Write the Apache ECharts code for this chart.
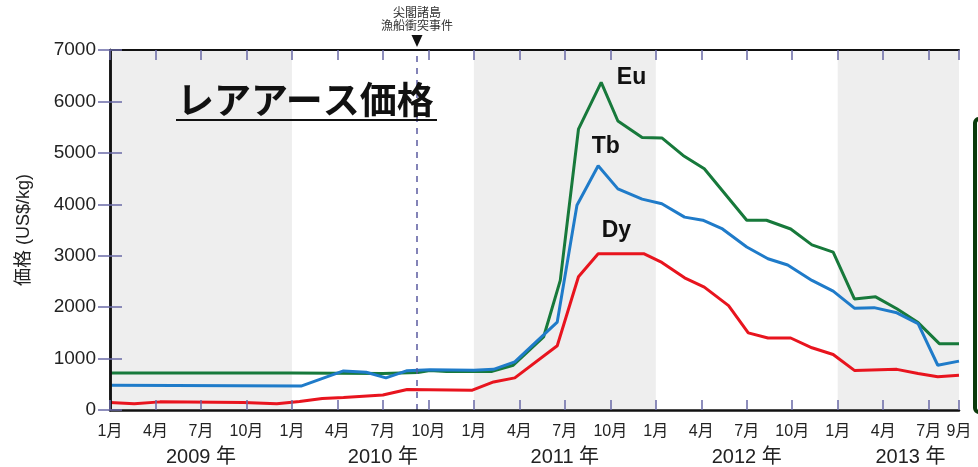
<!DOCTYPE html>
<html>
<head>
<meta charset="utf-8">
<script src="https://cdn.jsdelivr.net/npm/echarts@6/dist/echarts.min.js"></script>
<style>
  html, body { margin: 0; padding: 0; background: #fff; }
  #chart { width: 978px; height: 467px; }
</style>
</head>
<body>
<div id="chart"></div>
<script>
// months counted from Jan 2009 (0) to Sep 2013 (56)
var monthTicks = [0, 3, 6, 9, 12, 15, 18, 21, 24, 27, 30, 33, 36, 39, 42, 45, 48, 51, 54, 56]
var yearLabels = ['2009 年', '2010 年', '2011 年', '2012 年', '2013 年']
var yearLabelPos = [6, 18, 30, 42, 52.8]
var shadedYears = [[0, 12], [24, 36], [48, 56]]
var incidentMonth = 20.25

// Eu
var euMonths = [0, 12, 18, 20.3, 21.1, 22.2, 25.2, 26.6, 28.6, 29.7, 30.9, 32.4, 33.5, 35.1, 36.4, 37.8, 39.2, 42, 43.3, 44.9, 46.3, 47.7, 49.1, 50.5, 51.9, 53.3, 54.7, 56]
var euValues = [720, 720, 710, 730, 770, 750, 750, 870, 1420, 2520, 5460, 6370, 5620, 5300, 5290, 4950, 4690, 3690, 3690, 3520, 3210, 3070, 2160, 2200, 1970, 1700, 1290, 1290]
// Tb
var tbMonths = [0, 12.6, 15.4, 16.9, 18.2, 19.6, 21.1, 24, 25.3, 26.7, 29.5, 30.8, 32.2, 33.5, 35.1, 36.4, 37.9, 39.1, 40.4, 42, 43.4, 44.7, 46.3, 47.7, 49.1, 50.4, 51.9, 53.3, 54.6, 56]
var tbValues = [480, 465, 760, 735, 625, 765, 785, 775, 790, 936, 1710, 3980, 4750, 4300, 4100, 4010, 3750, 3690, 3520, 3170, 2940, 2820, 2520, 2310, 1980, 1990, 1890, 1680, 870, 950]
// Dy
var dyMonths = [0, 1.6, 3.3, 8.8, 11, 12.5, 14, 15.4, 18, 19.6, 23.9, 25.3, 26.7, 29.5, 30.9, 32.2, 35.2, 36.4, 37.9, 39.2, 40.8, 42.1, 43.4, 44.9, 46.3, 47.7, 49.1, 51.9, 53.3, 54.6, 56]
var dyValues = [145, 120, 158, 146, 120, 165, 225, 245, 290, 400, 385, 545, 625, 1250, 2590, 3040, 3040, 2870, 2570, 2390, 2030, 1500, 1400, 1400, 1210, 1080, 770, 790, 710, 645, 675]

var seriesNames = ['Eu', 'Tb', 'Dy']
var seriesColors = ['#17793b', '#1f7bc9', '#e8141e']
var labelSpots = [[34.4, 6470], [32.7, 5115], [33.4, 3485]]

var FONT = "'Liberation Sans', 'Noto Sans CJK JP', sans-serif"
var TICK = '#6a6aa6'

function pairs(xs, ys) {
  return xs.map(function (x, i) { return [x, ys[i]] })
}

var chart = echarts.init(document.getElementById('chart'))

var dataSets = [pairs(euMonths, euValues), pairs(tbMonths, tbValues), pairs(dyMonths, dyValues)]

var series = dataSets.map(function (d, i) {
  return {
    name: seriesNames[i],
    type: 'line',
    data: d,
    showSymbol: false,
    z: 3 + i,
    lineStyle: { color: seriesColors[i], width: 3 },
    itemStyle: { color: seriesColors[i] },
    markPoint: {
      symbol: 'circle',
      symbolSize: 1,
      itemStyle: { color: 'transparent' },
      label: {
        show: true,
        position: 'inside',
        formatter: seriesNames[i],
        color: '#111',
        fontSize: 23,
        fontWeight: 'bold',
        fontFamily: FONT
      },
      data: [{ coord: labelSpots[i] }]
    }
  }
})

// background bands, dashed incident line and its note
series.unshift({
  type: 'line',
  data: [],
  z: 0,
  markArea: {
    silent: true,
    itemStyle: { color: '#eeeeee' },
    data: shadedYears.map(function (r) { return [{ xAxis: r[0] }, { xAxis: r[1] }] })
  },
  markLine: {
    silent: true,
    symbol: 'none',
    label: { show: false },
    lineStyle: { color: '#5b5ba0', type: [6, 6], width: 1.5 },
    data: [{ xAxis: incidentMonth }]
  },
  markPoint: {
    symbol: 'triangle',
    symbolRotate: 180,
    symbolSize: [11, 12],
    symbolOffset: [0, -9],
    itemStyle: { color: '#111' },
    label: {
      show: true,
      position: 'top',
      distance: 3,
      formatter: '尖閣諸島\n漁船衝突事件',
      color: '#333',
      fontSize: 12,
      lineHeight: 13,
      fontFamily: "'Noto Sans CJK JP', sans-serif"
    },
    data: [{ coord: [incidentMonth, 7000] }]
  }
})

chart.setOption({
  animation: false,
  textStyle: { fontFamily: FONT },
  grid: { left: 110, right: 19, top: 50, bottom: 56, containLabel: false },
  xAxis: [
    {
      type: 'value',
      min: 0,
      max: 56,
      position: 'bottom',
      z: 10,
      splitLine: { show: false },
      axisLine: { show: true, lineStyle: { color: '#111', width: 2.5 } },
      axisTick: { show: true, inside: true, length: 10, customValues: monthTicks, lineStyle: { color: TICK, width: 1.5 } },
      axisLabel: {
        customValues: monthTicks,
        formatter: function (v) { return (v % 12 + 1) + '月' },
        color: '#222',
        fontSize: 16,
        margin: 14
      }
    },
    {
      type: 'value',
      min: 0,
      max: 56,
      position: 'top',
      z: 10,
      splitLine: { show: false },
      axisLine: { show: true, onZero: false, lineStyle: { color: '#111', width: 2 } },
      axisTick: { show: true, inside: true, length: 10, customValues: monthTicks, lineStyle: { color: TICK, width: 1.5 } },
      axisLabel: { show: false }
    },
    {
      type: 'value',
      min: 0,
      max: 56,
      position: 'bottom',
      offset: 27,
      splitLine: { show: false },
      axisLine: { show: false },
      axisTick: { show: false },
      axisLabel: {
        customValues: yearLabelPos,
        formatter: function (v) { return yearLabels[yearLabelPos.indexOf(v)] },
        color: '#222',
        fontSize: 20,
        margin: 10
      }
    }
  ],
  yAxis: [
    {
      type: 'value',
      min: 0,
      max: 7000,
      interval: 1000,
      z: 10,
      name: '価格 (US$/kg)',
      nameLocation: 'middle',
      nameRotate: 90,
      nameGap: 77,
      nameTextStyle: { fontSize: 18, color: '#222' },
      splitLine: { show: false },
      axisLine: { show: true, lineStyle: { color: '#111', width: 2.5 } },
      axisTick: { show: true, inside: true, length: 12, lineStyle: { color: TICK, width: 1.5 } },
      axisLabel: {
        color: '#222',
        fontSize: 19,
        margin: 14,
        formatter: function (v) { return String(v) }
      }
    },
    {
      type: 'value',
      min: 0,
      max: 7000,
      interval: 1000,
      position: 'right',
      z: 10,
      splitLine: { show: false },
      axisLine: { show: true, lineStyle: { color: '#111', width: 2.5 } },
      axisTick: { show: true, inside: true, length: 12, lineStyle: { color: TICK, width: 1.5 } },
      axisLabel: { show: false }
    }
  ],
  graphic: [
    {
      type: 'text',
      left: 177,
      top: 81,
      z: 10,
      style: {
        text: 'レアアース価格',
        fill: '#111',
        font: "bold 37px 'Noto Sans CJK JP', sans-serif"
      }
    },
    {
      type: 'rect',
      left: 176,
      top: 119,
      z: 10,
      shape: { width: 261, height: 2 },
      style: { fill: '#111' }
    },
    {
      type: 'rect',
      left: 973,
      top: 117,
      z: 10,
      shape: { width: 30, height: 293, r: 4 },
      style: { fill: '#fff', stroke: '#0b3a0b', lineWidth: 4 }
    }
  ],
  series: series
})
</script>
</body>
</html>
